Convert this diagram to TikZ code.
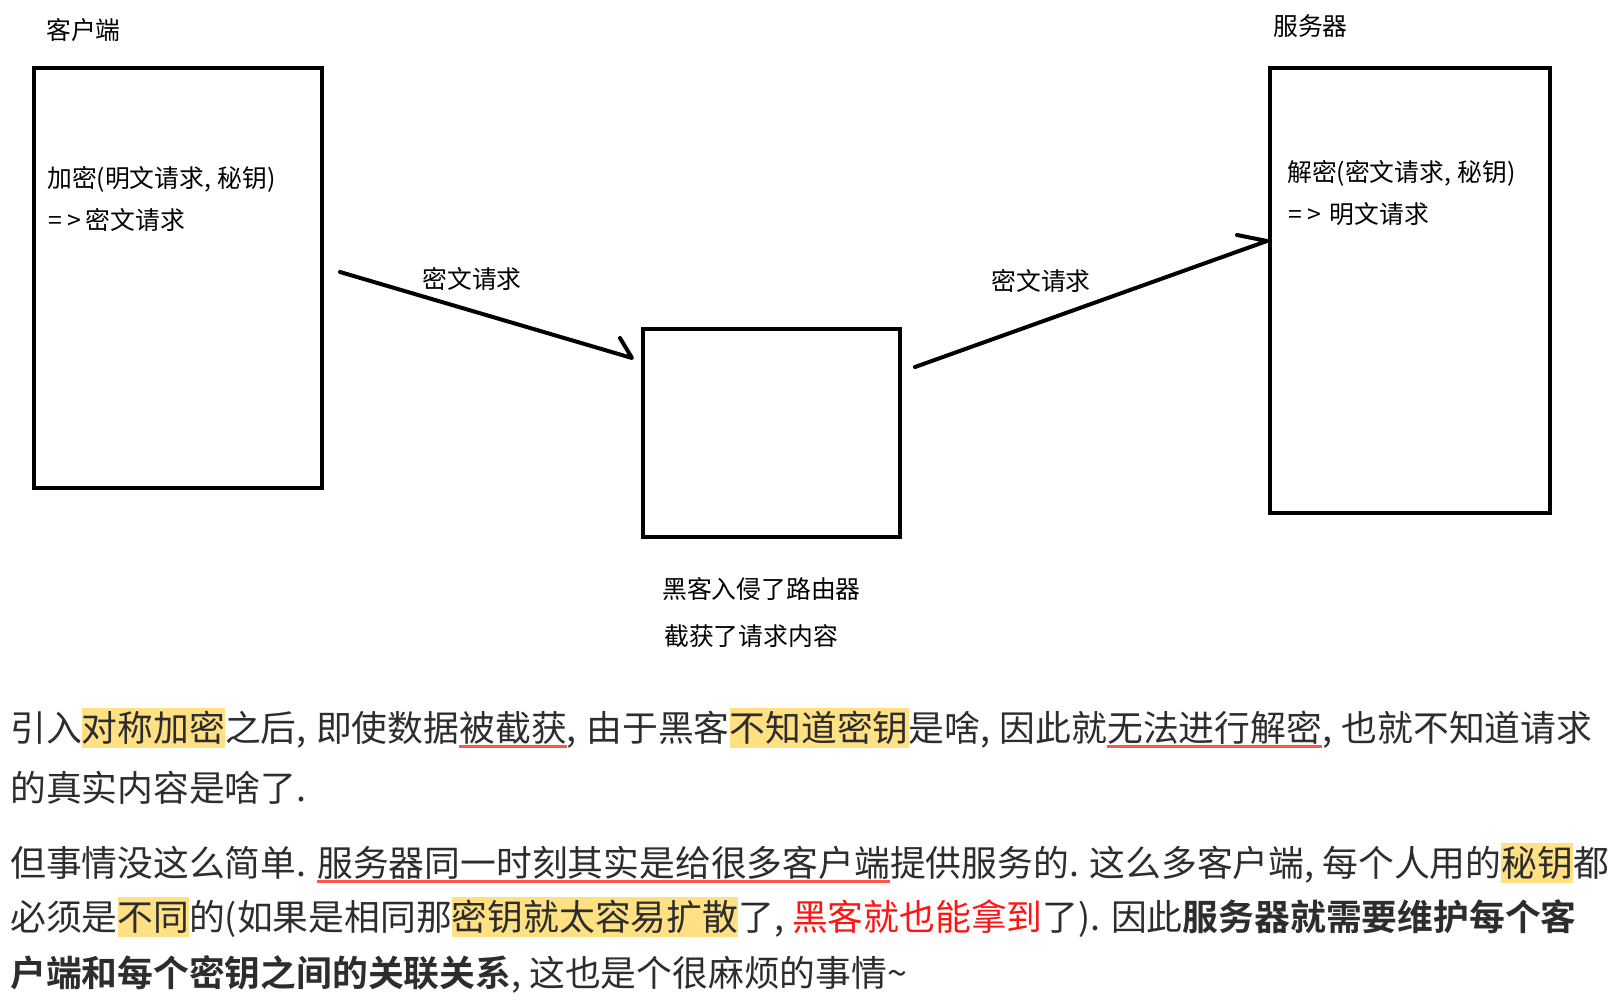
\documentclass[tikz,border=0pt]{standalone}
\usepackage{fontspec}
\setmainfont{Noto Sans CJK SC}[BoldFont={Noto Sans CJK SC Bold}]
\definecolor{hlc}{RGB}{255,224,130}
\definecolor{ulc}{RGB}{255,85,75}
\definecolor{redtxt}{RGB}{255,20,20}
\definecolor{txt}{RGB}{45,45,48}
\newsavebox\ulbox
\newcommand\hlt[1]{{\setlength{\fboxsep}{0pt}\colorbox{hlc}{\rule[-0.2em]{0pt}{1.12em}#1}}}
\newcommand\rul[1]{\sbox\ulbox{#1}\rlap{\color{ulc}\rule[-0.2em]{\wd\ulbox}{3pt}}\usebox\ulbox}
\newcommand\cma{,\hspace{0.27em}}
\newcommand\arr{=\hspace{6pt}>\hspace{4pt}}
\tikzset{
  boxs/.style={draw=black, line width=4pt, inner sep=0pt},
  lbl/.style={inner sep=0pt, anchor=west, font=\fontsize{24.8pt}{28pt}\selectfont},
  para/.style={inner sep=0pt, anchor=base west, text=txt, font=\fontsize{35.8pt}{40pt}\selectfont},
  conn/.style={line width=4pt, line cap=round, line join=round},
}
\begin{document}
\begin{tikzpicture}[x=1pt,y=-1pt]
\useasboundingbox (0,0) rectangle (1615,1007);
% client
\node[lbl] (clientlbl) at (46,30) {客户端};
\node[boxs, minimum width=288pt, minimum height=420pt] (client) at (178,278) {};
\node[lbl] (ct1) at (47,179) {加密(明文请求\cma 秘钥)};
\node[lbl] (ct2) at (48,220) {\arr 密文请求};
% router
\node[boxs, minimum width=257pt, minimum height=208pt] (router) at (771.5,433) {};
\node[lbl] (rt1) at (662,589) {黑客入侵了路由器};
\node[lbl] (rt2) at (664,636) {截获了请求内容};
% server
\node[lbl] (serverlbl) at (1273,26) {服务器};
\node[boxs, minimum width=280pt, minimum height=445pt] (server) at (1410,290.5) {};
\node[lbl] (st1) at (1287,173) {解密(密文请求\cma 秘钥)};
\node[lbl] (st2) at (1288,214) {\arr\hspace{4pt}明文请求};
% arrows
\coordinate (a1s) at (340,272);
\coordinate (a1e) at (632,358);
\coordinate (a1b) at (620,338);
\draw[conn] (a1s) -- (a1e) -- (a1b);
\node[lbl, anchor=center] (a1l) at (472,279) {密文请求};
\coordinate (a2s) at (915,367);
\coordinate (a2e) at (1267,241);
\coordinate (a2b) at (1237,235);
\draw[conn] (a2s) -- (a2e) -- (a2b);
\node[lbl, anchor=center] (a2l) at (1041,281) {密文请求};
% paragraphs
\node[para] (p1) at (10,741) {引入\hlt{对称加密}之后\cma 即使数据\rul{被截获}\cma 由于黑客\hlt{不知道密钥}是啥\cma 因此就\rul{无法进行解密}\cma 也就不知道请求};
\node[para] (p2) at (10,801) {的真实内容是啥了.};
\node[para] (p3) at (10,876) {但事情没这么简单. \rul{服务器同一时刻其实是给很多客户端}提供服务的. 这么多客户端, 每个人用的\hlt{秘钥}都};
\node[para] (p4) at (10,930) {必须是\hlt{不同}的(如果是相同那\hlt{密钥就太容易扩散}了, \textcolor{redtxt}{黑客就也能拿到}了). 因此\textbf{服务器就需要维护每个客}};
\node[para] (p5) at (10,986) {\textbf{户端和每个密钥之间的关联关系}, 这也是个很麻烦的事情\char`\~};
\end{tikzpicture}
\end{document}
